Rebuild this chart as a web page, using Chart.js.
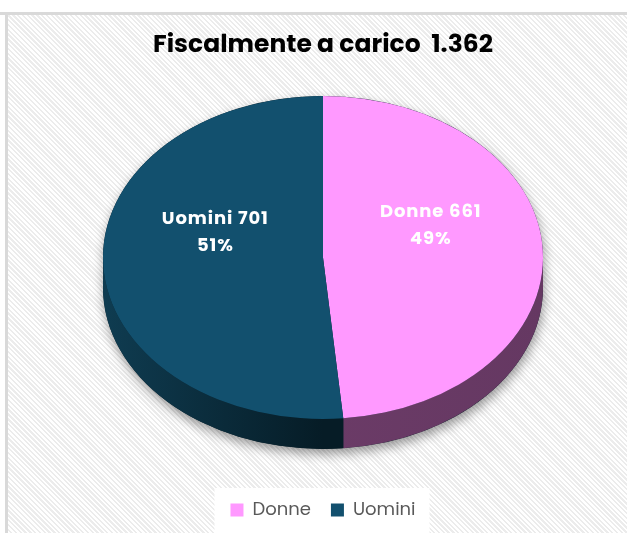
<!DOCTYPE html>
<html><head><meta charset="utf-8">
<script src="https://cdn.jsdelivr.net/npm/chart.js@4"></script>
<style>
html,body{margin:0;padding:0;background:#fff;}
#wrap{position:relative;width:627px;height:533px;overflow:hidden;}
#bg{position:absolute;left:5px;top:12px;right:0;bottom:0;border-left:3px solid #d9d9d9;border-top:3px solid #d9d9d9;
  background:repeating-linear-gradient(45deg,#ffffff 0px,#ffffff 1.7px,#ececec 1.7px,#ececec 3.4px);}
#topline{position:absolute;left:0;top:12px;width:5px;height:3px;background:#d9d9d9}
canvas{position:absolute;left:0;top:0;}
</style></head>
<body><div id="wrap"><div id="bg"></div><div id="topline"></div><canvas id="c" width="627" height="533"></canvas></div>
<script>
// ---- data ----
const categories = ['Donne', 'Uomini'];
const values = [661, 701];
const titleText = 'Fiscalmente a carico  1.362';

// ---- styles ----
const topColors = ['#FF99FF', '#12506E'];
const sideColors = [['#6B3B67', '#653862'], ['#0F3C51', '#061C26']];
const FONT = "Poppins, Inter, 'Noto Sans', sans-serif";

function geom(chart) {
  const meta = chart.getDatasetMeta(0);
  const arc = meta.data[0];
  const o = chart.options.plugins.pie3d;
  const r = arc.outerRadius;
  const k = o.tilt;
  const cx = arc.x;
  const cy = chart.chartArea.top + o.topGap + r * k;
  return { meta, arc, r, k, ry: r * k, cx, cy, depth: o.depth, o };
}

const pie3d = {
  id: 'pie3d',
  beforeDraw(chart) {
    const lg = chart.legend;
    if (!lg || !lg.legendHitBoxes || !lg.legendHitBoxes.length) return;
    const hb = lg.legendHitBoxes;
    const minX = Math.min(...hb.map(h => h.left));
    const maxX = Math.max(...hb.map(h => h.left + h.width));
    const minY = Math.min(...hb.map(h => h.top));
    const ctx = chart.ctx;
    ctx.save();
    ctx.fillStyle = '#ffffff';
    ctx.fillRect(minX - 16, minY - 13, (maxX - minX) + 30, 60);
    ctx.restore();
  },
  beforeDatasetsDraw(chart) {
    const g = geom(chart);
    const { r, ry, cx, cy, depth, arc } = g;
    const ctx = chart.ctx;
    // silhouette with shadow
    ctx.save();
    ctx.shadowColor = 'rgba(0,0,0,0.4)';
    ctx.shadowBlur = 11;
    ctx.shadowOffsetX = 1;
    ctx.shadowOffsetY = 5;
    ctx.beginPath();
    ctx.ellipse(cx, cy, r, ry, 0, Math.PI, 2 * Math.PI, false);
    ctx.ellipse(cx, cy + depth, r, ry, 0, 0, Math.PI, false);
    ctx.closePath();
    ctx.fillStyle = sideColors[1][1];
    ctx.fill();
    ctx.restore();
    // side walls per slice
    g.meta.data.forEach((a, i) => {
      const s = a.startAngle, e = a.endAngle;
      [0, 2 * Math.PI, -2 * Math.PI].forEach(off => {
        const lo = Math.max(s, off), hi = Math.min(e, off + Math.PI);
        if (hi > lo) {
          const A = lo - off, B = hi - off;
          const grd = i === 1
            ? ctx.createLinearGradient(cx - r, 0, cx, 0)
            : ctx.createLinearGradient(cx, 0, cx + r, 0);
          grd.addColorStop(0, sideColors[i][0]);
          grd.addColorStop(1, sideColors[i][1]);
          ctx.beginPath();
          ctx.ellipse(cx, cy, r, ry, 0, A, B, false);
          ctx.ellipse(cx, cy + depth, r, ry, 0, B, A, true);
          ctx.closePath();
          ctx.fillStyle = grd;
          ctx.fill();
        }
      });
    });
    // squash the library-drawn arcs into the top face
    ctx.save();
    ctx.translate(0, cy);
    ctx.scale(1, g.k);
    ctx.translate(0, -arc.y);
  },
  afterDatasetsDraw(chart) {
    const ctx = chart.ctx;
    ctx.restore();
    const g = geom(chart);
    const { r, ry, cx, cy, o } = g;
    const total = values.reduce((p, v) => p + v, 0);
    ctx.save();
    ctx.fillStyle = '#ffffff';
    ctx.textAlign = 'center';
    ctx.textBaseline = 'middle';
    ctx.font = "bold 18px " + FONT;
    if ('letterSpacing' in ctx) ctx.letterSpacing = '0.9px';
    g.meta.data.forEach((a, i) => {
      const mid = (a.startAngle + a.endAngle) / 2;
      const x = cx + Math.cos(mid) * r * o.labelR;
      const y = cy + Math.sin(mid) * ry * o.labelR + o.labelDy;
      const pct = Math.round(values[i] / total * 100) + '%';
      ctx.fillText(categories[i] + ' ' + values[i], x, y - o.lineGap / 2);
      ctx.fillText(pct, x, y + o.lineGap / 2);
    });
    ctx.restore();
  }
};

new Chart(document.getElementById('c'), {
  type: 'pie',
  data: {
    labels: categories,
    datasets: [{
      data: values,
      backgroundColor: topColors,
      borderWidth: 0,
      clip: false
    }]
  },
  options: {
    responsive: false,
    animation: false,
    events: [],
    radius: 220,
    layout: { padding: { left: 19, right: 0, top: 0, bottom: 4 } },
    plugins: {
      pie3d: { tilt: 0.734, depth: 30, topGap: 17, labelR: 0.49, labelDy: -28, lineGap: 27 },
      tooltip: { enabled: false },
      title: {
        display: true,
        text: titleText,
        color: '#000000',
        font: { family: FONT, size: 25, weight: 'bold' },
        padding: { top: 31, bottom: 18 }
      },
      legend: {
        position: 'bottom',
        labels: {
          boxWidth: 13,
          boxHeight: 13,
          color: '#595959',
          font: { family: FONT, size: 18 },
          padding: 20
        }
      }
    }
  },
  plugins: [pie3d]
});
</script>
</body></html>
